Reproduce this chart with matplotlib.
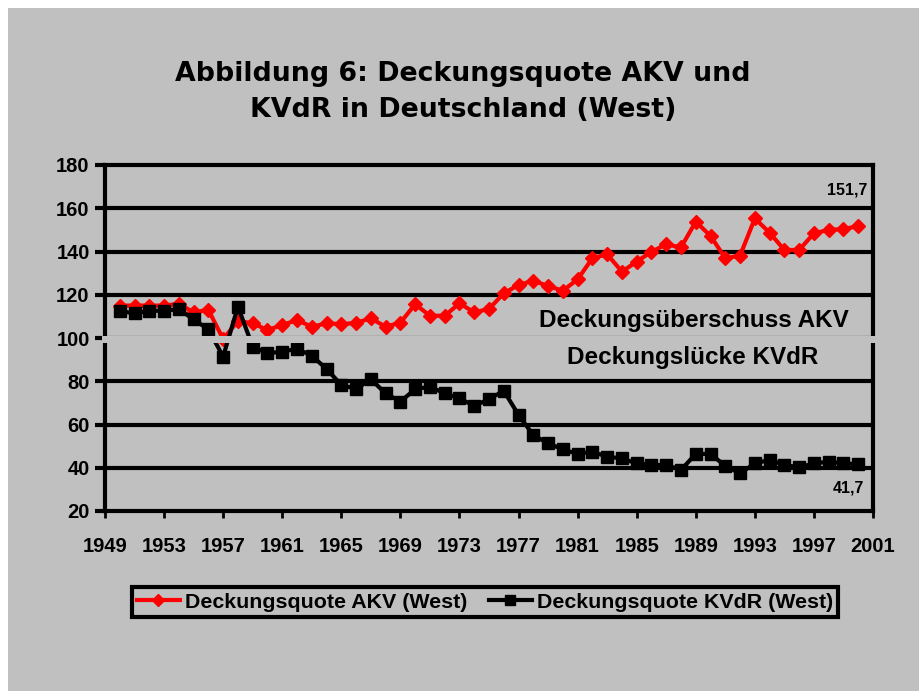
import matplotlib
matplotlib.use("Agg")
import matplotlib.pyplot as plt
from matplotlib.patches import Rectangle
from matplotlib.lines import Line2D

years = list(range(1950, 2001))
akv = [115, 115, 115, 115, 115.8, 111.9, 113, 99.5, 107.9, 106.8,
       103.7, 106, 108.3, 105.2, 106.8, 106.4, 107, 109.1, 105.2, 107.1,
       115.6, 110.3, 110.3, 116, 111.9, 113.4, 120.7, 124.5, 126.5, 124,
       121.9, 127.1, 136.9, 138.7, 130.7, 135.3, 139.9, 143.3, 141.9, 153.8,
       147.2, 136.9, 138.1, 155.3, 148.7, 140.7, 140.7, 148.4, 150, 150.4,
       151.7]
kvdr = [112.5, 111.4, 112.6, 112.6, 113.3, 108.6, 104, 91.4, 114.5, 96,
        92.9, 93.7, 95, 91.8, 85.7, 78.3, 76.4, 80.9, 74.4, 70.6,
        76.3, 77.5, 74.4, 72.1, 68.6, 71.7, 75.6, 64.4, 55.1, 51.3,
        48.5, 46.4, 47.4, 45.1, 44.3, 42, 41.3, 41.3, 39, 46.4,
        46.4, 40.8, 37.4, 42, 43.6, 41.3, 40.2, 42, 42.8, 42,
        41.7]
xticks = list(range(1949, 2002, 4))
yticks = list(range(20, 181, 20))
title_lines = ["Abbildung 6: Deckungsquote AKV und", "KVdR in Deutschland (West)"]
name_akv = "Deckungsquote AKV (West)"
name_kvdr = "Deckungsquote KVdR (West)"

GRAY = "#C0C0C0"
W, H = 920, 691
fig = plt.figure(figsize=(W / 100, H / 100), dpi=100, facecolor=GRAY)
# white margin strips at top and left
fig.patches.append(Rectangle((0, 1 - 8 / H), 1, 8 / H, transform=fig.transFigure,
                             facecolor="white", edgecolor="none", zorder=-10))
fig.patches.append(Rectangle((0, 0), 8 / W, 1, transform=fig.transFigure,
                             facecolor="white", edgecolor="none", zorder=-10))

ax = fig.add_axes([105 / W, 1 - 511 / H, (873 - 105) / W, (511 - 165) / H])
ax.set_facecolor(GRAY)
ax.set_xlim(1949, 2001)
ax.set_ylim(20, 180)
ax.set_xticks(xticks)
ax.set_yticks(yticks)
for y in yticks[1:-1]:
    ax.axhline(y, color="black", lw=3, zorder=1)
for s in ax.spines.values():
    s.set_linewidth(3)
    s.set_color("black")

tickfont = dict(family="Liberation Sans", weight="bold", size=14.5)
ax.set_xticklabels([str(t) for t in xticks], **tickfont)
ax.set_yticklabels([str(t) for t in yticks], **tickfont)
ax.tick_params(axis="y", direction="out", length=7, width=3, pad=4)
ax.tick_params(axis="x", direction="out", length=5, width=2, pad=14)

ax.plot(years, akv, color="#FF0000", lw=3, marker="D", ms=7, zorder=3)
ax.plot(years, kvdr, color="black", lw=3, marker="s", ms=8, zorder=3)

# background band hiding the 100 line
ax.add_patch(Rectangle((-0.004, 97.7), 1.01, 3.2,
                       transform=ax.get_yaxis_transform(), facecolor=GRAY,
                       edgecolor="none", clip_on=False, zorder=6))

lblfont = dict(family="Liberation Sans", weight="bold")
ax.text(2000.6, 168.5, "151,7", ha="right", va="center", size=11.5, zorder=7, **lblfont)
ax.text(2000.4, 30.6, "41,7", ha="right", va="center", size=11.5, zorder=7, **lblfont)
ax.text(1988.9, 107.9, "Deckungsüberschuss AKV", ha="center", va="center", size=17.5, zorder=7, **lblfont)
ax.text(1988.8, 90.8, "Deckungslücke KVdR", ha="center", va="center", size=17.5, zorder=7, **lblfont)

fig.text(463 / W, 1 - 81 / H, title_lines[0], ha="center", va="baseline", family="DejaVu Sans",
         weight="bold", size=19.3)
fig.text(463 / W, 1 - 117 / H, title_lines[1], ha="center", va="baseline", family="DejaVu Sans",
         weight="bold", size=19.3)

handles = [Line2D([], [], color="#FF0000", lw=3, marker="D", ms=6),
           Line2D([], [], color="black", lw=3, marker="s", ms=7)]
leg = fig.legend(handles, [name_akv, name_kvdr], loc="center", ncol=2,
                 bbox_to_anchor=(485 / W, 1 - 602 / H), frameon=True, fancybox=False,
                 prop=dict(family="Liberation Sans", weight="bold", size=15.4),
                 handlelength=2.0, handletextpad=0.25, columnspacing=1.0,
                 borderpad=0.25, borderaxespad=0, framealpha=1)
fr = leg.get_frame()
fr.set_edgecolor("black")
fr.set_linewidth(3)
fr.set_facecolor(GRAY)

fig.savefig("out.png", dpi=100, facecolor=GRAY)
